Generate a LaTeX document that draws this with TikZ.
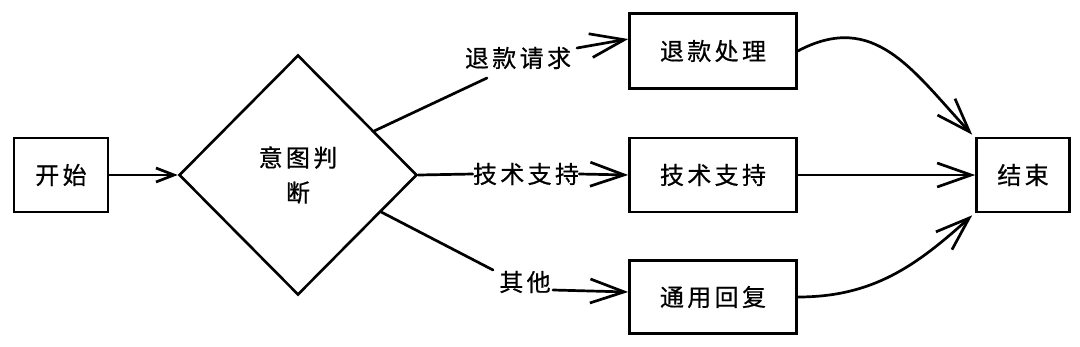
\documentclass[tikz,border=0pt]{standalone}
\usepackage{fontspec}
\newfontfamily\cjk[LetterSpace=14,FakeBold=0.6]{Noto Sans CJK SC}
\usetikzlibrary{shapes.geometric,arrows.meta}
\begin{document}
\begin{tikzpicture}[x=1pt,y=1pt,
  every node/.style={font=\cjk\fontsize{24}{35}\selectfont},
  box/.style={draw, line width=2.6pt, inner sep=0pt},
  diam/.style={draw, shape=diamond, line width=2.6pt, inner sep=0pt, align=center},
  lab/.style={inner sep=0pt},
  conn/.style={line width=2.7pt, line cap=round, line join=round},
  bigarr/.style={conn, -{Straight Barb[length=34pt,width=24pt,line width=2.7pt]}},
  smallarr/.style={conn, -{Straight Barb[length=18pt,width=14pt,line width=2.7pt]}}
]
\useasboundingbox (0,0) rectangle (1080,-346);
\node[box, minimum width=94pt, minimum height=74pt] (start) at (61,-175) {开始};
\node[diam, minimum width=238pt, minimum height=240pt] (d) at (298,-175) {意图判\\断};
\node[box, minimum width=167pt, minimum height=75pt] (r1) at (713,-51) {退款处理};
\node[box, minimum width=167pt, minimum height=74pt] (r2) at (713,-175) {技术支持};
\node[box, minimum width=167pt, minimum height=73pt] (r3) at (713,-297) {通用回复};
\node[box, minimum width=93pt, minimum height=74pt] (end) at (1023,-175) {结束};
\node[lab] (l1) at (518,-58) {退款请求};
\node[lab] (l2) at (526,-174) {技术支持};
\node[lab] (l3) at (525,-282) {其他};
\coordinate (l1in) at (487,-78);
\coordinate (l1out) at (577,-48);
\coordinate (l3in) at (493,-270);
\coordinate (l3out) at (553,-290);
\draw[smallarr] (start.east) -- (d.west);
\draw[conn] (d.30) -- (l1in);
\draw[bigarr] (l1out) -- ([yshift=12pt]r1.west);
\draw[conn] (d.east) -- (l2.west);
\draw[bigarr] (l2.east) -- (r2.west);
\draw[conn] (d.-24) -- (l3in);
\draw[bigarr] (l3out) -- ([yshift=5pt]r3.west);
\draw[bigarr] (r1.east) to[out=28,in=133,looseness=1.15] ([shift={(-3pt,2pt)}]end.north west);
\draw[bigarr] (r2.east) -- (end.west);
\draw[bigarr] (r3.east) to[out=0,in=222] ([shift={(-3pt,-2pt)}]end.south west);
\end{tikzpicture}
\end{document}
